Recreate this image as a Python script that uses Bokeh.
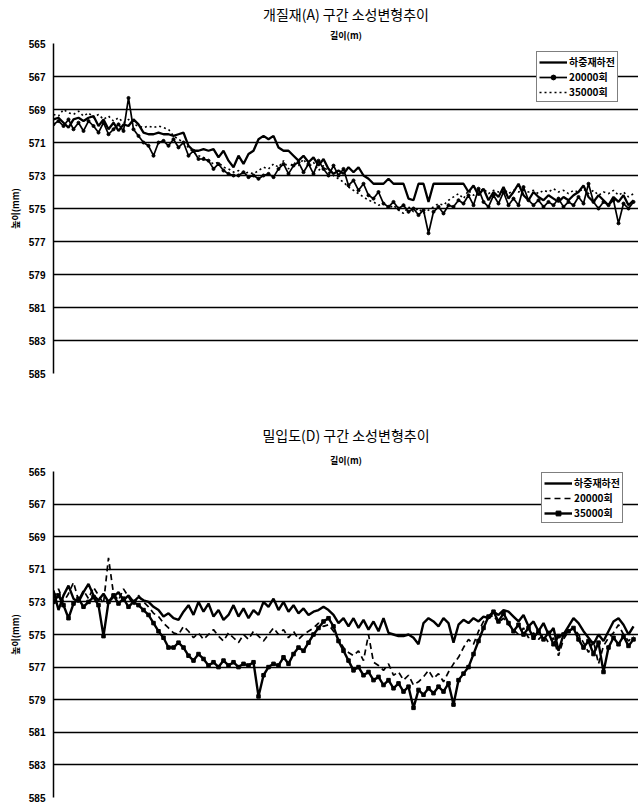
from bokeh.plotting import figure
from bokeh.models import Range1d, FixedTicker, Legend, LegendItem, Title
from bokeh.layouts import column
from bokeh.embed import file_html
from bokeh.resources import INLINE

# ---------------- data ----------------
y_ticks = [565, 567, 569, 571, 573, 575, 577, 579, 581, 583, 585]
legend_names = ["하중재하전", "20000회", "35000회"]
top_title = "개질재(A) 구간 소성변형추이"
bottom_title = "밀입도(D) 구간 소성변형추이"
x_label = "길이(m)"
y_label = "높이(mm)"

top_before = [569.6, 569.5, 569.8, 570.1, 569.6, 569.5, 569.7, 569.5, 569.4, 570.0, 569.6, 570.2, 569.8, 570.3, 569.9, 570.0, 569.6, 569.9,
              570.4, 570.5, 570.5, 570.4, 570.5, 570.5, 570.6, 570.5, 570.4,
              571.2, 571.5, 571.5, 571.4, 571.5, 571.4, 571.9, 571.5, 572.1, 572.5, 571.8, 572.3, 571.7, 571.5,
              570.8, 570.6, 570.8, 570.6, 571.3, 571.5, 571.5, 571.8, 572.1, 571.8, 572.2, 571.9, 572.4, 572.0, 572.6, 572.9, 572.7, 572.9,
              572.5, 572.8, 572.5, 573.0, 573.2, 573.5, 573.5, 573.5, 573.2, 573.5, 573.5, 573.5, 574.4, 574.5, 573.5, 573.5, 574.6, 573.5,
              573.5, 573.5, 573.5, 573.5, 573.5, 573.5,
              574.0, 573.6, 574.2, 573.8, 574.5, 574.0, 574.3, 573.7, 574.4, 574.0, 573.5, 574.2, 574.5, 574.0, 574.3, 574.5, 574.2,
              574.4, 574.6, 574.3, 574.5, 574.2, 574.0, 573.6, 574.3, 574.6, 574.2, 574.5, 574.8, 574.3, 574.6, 574.2, 574.8, 574.5]

top_20000 = [569.9, 569.7, 570.0, 569.6, 570.2, 569.8, 570.3, 569.7, 570.0, 570.4, 569.8, 570.5, 570.2, 569.9, 570.3, 568.3, 570.2, 570.6,
             571.0, 571.2, 571.8, 571.0, 570.9, 571.2, 570.8, 571.3, 571.0,
             571.8, 571.5, 572.0, 572.0, 572.1, 572.6, 572.3, 572.7, 572.9, 573.0, 573.0, 572.8, 573.1, 573.0,
             573.2, 573.0, 572.9, 573.1, 572.6, 572.3, 572.9, 572.4, 572.2, 572.8, 572.3, 572.9, 572.1, 572.6, 573.0, 572.4, 573.0, 572.6,
             573.6, 573.3, 573.9, 573.5, 574.2, 574.4, 574.0, 574.7, 574.9, 574.6, 575.0, 574.8, 575.2, 575.0, 575.4, 575.1, 576.5, 575.2,
             574.9, 575.3, 574.8, 574.9, 574.5, 574.7,
             574.2, 574.8, 573.8, 574.6, 574.9, 574.2, 574.7, 574.0, 574.8, 574.4, 574.8, 573.7, 574.5, 574.8, 574.5, 574.9, 574.6,
             574.8, 574.4, 574.9, 574.6, 574.8, 574.3, 574.7, 573.5, 574.6, 575.0, 574.6, 574.8, 574.5, 575.9, 574.7, 575.0, 574.6]

top_35000 = [569.3, 569.4, 569.0, 569.2, 569.3, 569.1, 569.4, 569.2, 569.5, 569.3, 569.6, 569.4, 569.7, 569.5, 569.8, 569.6, 569.9, 570.0,
             570.1, 570.0, 570.1, 570.0, 570.1, 570.2, 570.6, 570.8, 571.0,
             571.3, 571.6, 571.8, 571.9, 572.1, 572.3, 572.2, 572.5, 572.6, 572.8, 572.7, 572.9, 572.8, 572.9,
             572.7, 572.5, 572.6, 572.3, 572.5, 572.1, 572.6, 572.2, 572.4, 572.0, 572.5, 572.2, 572.7, 572.4, 572.8, 573.0, 573.2, 573.4,
             573.7, 573.9, 574.1, 574.3, 574.5, 574.6, 574.8, 574.7, 575.0, 574.8, 575.1, 575.3, 574.9, 575.2, 575.0, 575.3, 575.1, 574.9,
             574.7, 574.8, 574.5, 574.3, 574.1, 574.4,
             573.9, 574.2, 574.0, 573.8, 574.1, 573.9, 574.0, 573.8, 574.1, 573.9, 574.0, 573.9, 574.0, 573.9, 574.1, 573.9, 574.0,
             573.8, 574.0, 573.9, 574.1, 573.9, 574.0, 573.8, 574.1, 573.9, 574.2, 574.0, 574.1, 573.9, 574.2, 574.0, 574.3, 574.1]

bot_before = [572.3, 573.5, 572.6, 572.0, 572.8, 573.0, 572.4, 571.9, 572.6, 572.9, 572.5, 573.0, 572.7, 572.4, 572.9, 572.6, 573.0, 572.7,
              572.9, 573.0, 573.3, 573.5, 573.9, 573.7, 574.0, 574.1, 573.6, 573.2, 573.8, 573.0, 573.6, 573.1, 573.9, 573.5,
              574.1, 573.8, 573.2, 573.9, 573.4, 574.0, 573.5, 573.8, 573.0, 573.3, 572.8, 573.5, 573.0, 573.6, 573.2, 573.7,
              573.4, 573.8, 573.6, 573.5, 573.3, 573.5, 573.8, 574.3, 574.0, 574.5, 574.0, 574.6, 574.1, 574.7, 574.2, 574.8,
              574.0, 574.9, 575.0, 575.1, 575.1, 575.0, 575.2, 575.6, 574.3, 574.0, 574.2, 574.5, 574.0, 574.3, 575.5, 574.4,
              574.1, 574.3, 574.0, 574.2, 573.9, 574.0, 573.6, 573.8, 573.5, 573.6, 573.9, 574.2, 573.8, 574.5, 574.2, 574.8,
              574.3, 575.0, 574.6, 576.0, 575.0, 574.5, 574.0, 574.3, 574.8, 575.2, 575.6, 575.0, 575.4, 574.8, 574.2, 574.0,
              574.4, 575.0, 574.5]

bot_20000 = [572.8, 572.2, 573.0, 572.5, 571.8, 572.9, 572.3, 572.8, 572.1, 572.6, 573.1, 570.3, 572.5, 572.9, 572.2, 572.7, 573.2, 572.6,
             573.0, 573.3, 573.7, 573.9, 574.3, 574.6, 574.9, 575.0, 574.5, 574.8, 575.2, 574.9, 575.3, 575.0, 574.7, 575.1,
             575.4, 574.9, 575.2, 575.5, 575.0, 575.3, 574.8, 575.1, 575.4, 575.0, 574.6, 575.0, 574.7, 575.2, 574.8, 575.3,
             575.0, 574.8, 574.6, 574.3, 574.5, 574.4, 574.8, 575.3, 575.8, 576.1, 576.3, 576.0, 576.6, 575.0, 576.7, 576.9,
             577.2, 576.8, 577.5, 577.3, 577.8, 577.5, 578.1, 577.9, 577.6, 577.2, 577.7, 577.4, 577.9, 577.3, 576.8, 576.4,
             575.8, 575.3, 575.6, 574.8, 574.2, 574.0, 573.8, 574.3, 574.0, 574.4, 574.7, 575.0, 574.6, 575.2, 574.9, 575.3,
             575.0, 575.5, 575.2, 576.3, 575.3, 574.8, 574.6, 575.0, 575.5, 576.1, 575.4, 576.8, 575.7, 575.2, 574.9, 574.4,
             575.0, 575.4, 575.1]

bot_35000 = [573.0, 572.6, 573.2, 574.0, 573.1, 572.8, 573.3, 573.0, 572.7, 573.2, 575.1, 573.0, 572.6, 573.1, 572.8, 573.3, 573.0, 573.2,
             573.5, 573.8, 574.3, 574.8, 575.2, 575.8, 575.8, 575.5, 575.8, 576.3, 576.6, 576.2, 576.5, 576.9, 576.7, 577.0,
             576.6, 576.9, 576.7, 577.0, 576.8, 576.9, 576.7, 578.8, 577.5, 577.0, 576.8, 576.9, 576.4, 576.8, 576.2, 575.8,
             576.0, 575.5, 575.0, 574.6, 574.2, 574.0, 574.5, 575.4, 576.0, 576.6, 577.2, 577.0, 577.5, 577.3, 577.8, 577.6,
             578.1, 577.8, 578.3, 578.0, 578.5, 578.2, 579.5, 578.4, 578.7, 578.3, 578.6, 578.2, 578.5, 578.0, 579.3, 577.8,
             577.4, 577.0, 576.2, 575.4, 574.6, 573.9, 573.6, 574.2, 573.7, 574.3, 574.8, 574.4, 575.0, 574.6, 575.2, 574.8,
             575.3, 574.9, 575.6, 575.1, 575.0, 574.8, 574.6, 575.3, 575.8, 575.4, 576.2, 575.5, 577.3, 575.8, 575.2, 575.6,
             575.1, 575.7, 575.3]

KR = "Noto Sans CJK KR"
NUM = "Liberation Sans"


def make_fig(title, height, border_top, border_bottom, sub_standoff, main_standoff):
    p = figure(width=638, height=height, output_backend="svg", toolbar_location=None,
               title=None, x_axis_location=None,
               x_range=Range1d(0, 117), y_range=Range1d(585, 565),
               min_border_left=53, min_border_right=0,
               min_border_top=border_top, min_border_bottom=border_bottom)
    p.outline_line_color = None
    p.background_fill_color = "white"
    p.border_fill_color = "white"

    sub = Title(text=x_label, align="center", text_font=KR, text_font_size="9px",
                text_font_style="bold", text_color="black", standoff=sub_standoff)
    p.add_layout(sub, "above")
    main = Title(text=title, align="center", text_font=KR, text_font_size="14px",
                 text_font_style="normal", text_color="black", standoff=main_standoff)
    p.add_layout(main, "above")

    ya = p.yaxis[0]
    ya.ticker = FixedTicker(ticks=y_ticks)
    ya.axis_label = y_label
    ya.axis_label_text_font = KR
    ya.axis_label_text_font_size = "9px"
    ya.axis_label_text_font_style = "bold"
    ya.axis_label_text_color = "black"
    ya.axis_label_standoff = 4
    ya.major_label_text_font = NUM
    ya.major_label_text_font_size = "10px"
    ya.major_label_text_font_style = "bold"
    ya.major_label_text_color = "black"
    ya.major_label_standoff = 8
    ya.major_tick_out = 0
    ya.major_tick_in = 0
    ya.minor_tick_out = 0
    ya.minor_tick_in = 0
    ya.major_tick_line_color = None
    ya.minor_tick_line_color = None
    ya.axis_line_color = "black"
    ya.axis_line_width = 1.5

    p.xgrid.visible = False
    p.ygrid.ticker = FixedTicker(ticks=y_ticks)
    p.ygrid.grid_line_color = "black"
    p.ygrid.grid_line_width = 1.5
    return p


def style_legend(p, items, loc):
    leg = Legend(items=items, location=loc)
    leg.label_text_font = KR
    leg.label_text_font_size = "10px"
    leg.label_text_font_style = "bold"
    leg.label_text_color = "black"
    leg.label_height = 12
    leg.glyph_height = 12
    leg.glyph_width = 28
    leg.label_standoff = 2
    leg.spacing = 0
    leg.padding = 2
    leg.margin = 0
    leg.border_line_color = "black"
    leg.border_line_width = 1
    leg.background_fill_color = "white"
    leg.background_fill_alpha = 1
    p.add_layout(leg)


# ---------------- top chart ----------------
p1 = make_fig(top_title, 400, 43, 27, 4, 1)
x1 = list(range(len(top_before)))
x2 = list(range(len(top_20000)))
x3 = list(range(len(top_35000)))
r1 = p1.line(x1, top_before, line_color="black", line_width=2.3)
r2 = p1.line(x2, top_20000, line_color="black", line_width=1.7)
r2m = p1.scatter(x2, top_20000, marker="circle", size=3, fill_color="black", line_color="black")
r3 = p1.line(x3, top_35000, line_color="black", line_width=1.6, line_dash="2 3")
style_legend(p1, [LegendItem(label=legend_names[0], renderers=[r1]),
                  LegendItem(label=legend_names[1], renderers=[r2, r2m]),
                  LegendItem(label=legend_names[2], renderers=[r3])], (483, 271))

# ---------------- bottom chart ----------------
p2 = make_fig(bottom_title, 403, 71, 6, 10, 3)
b1 = list(range(len(bot_before)))
b2 = list(range(len(bot_20000)))
b3 = list(range(len(bot_35000)))
s1 = p2.line(b1, bot_before, line_color="black", line_width=2.4)
s2 = p2.line(b2, bot_20000, line_color="black", line_width=1.7, line_dash="6 4")
s3 = p2.line(b3, bot_35000, line_color="black", line_width=2.4)
s3m = p2.scatter(b3, bot_35000, marker="square", size=3.5, fill_color="black", line_color="black")
style_legend(p2, [LegendItem(label=legend_names[0], renderers=[s1]),
                  LegendItem(label=legend_names[1], renderers=[s2]),
                  LegendItem(label=legend_names[2], renderers=[s3, s3m])], (488, 274))

layout = column(p1, p2, spacing=0)
open("out.html", "w").write(file_html(layout, INLINE))
